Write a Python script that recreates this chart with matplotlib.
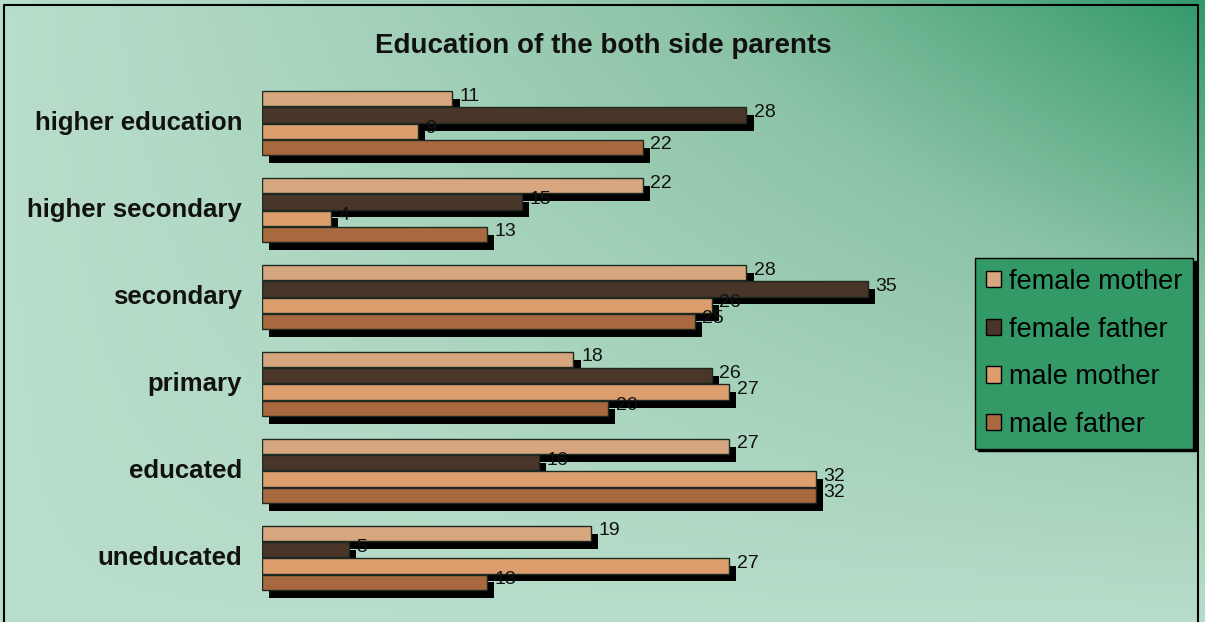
import numpy as np
import matplotlib
matplotlib.use("Agg")
import matplotlib.pyplot as plt
from matplotlib.patches import Patch
from matplotlib.colors import LinearSegmentedColormap

plt.rcParams['font.family'] = ['Liberation Sans', 'DejaVu Sans']

categories = ["higher education", "higher secondary", "secondary", "primary", "educated", "uneducated"]
series_names = ["female mother", "female father", "male mother", "male father"]
female_mother = [11, 22, 28, 18, 27, 19]
female_father = [28, 15, 35, 26, 16, 5]
male_mother = [9, 4, 26, 27, 32, 27]
male_father = [22, 13, 25, 20, 32, 13]
series_values = [female_mother, female_father, male_mother, male_father]
series_colors = ["#d6a67e", "#4a3529", "#dd9e6e", "#a8693f"]

W, H = 1205, 622
fig = plt.figure(figsize=(W / 100, H / 100), dpi=100)

# background gradient: dark green in top-right corner, light mint elsewhere
bg = fig.add_axes([0, 0, 1, 1], zorder=-5)
xx, yy = np.meshgrid(np.linspace(0, 1, 400), np.linspace(0, 1, 200))
t = (xx ** 1.2) * (yy ** 1.0)
cmap = LinearSegmentedColormap.from_list("g", ["#b8ddca", "#8cc3a6", "#33996a"])
bg.imshow(t, cmap=cmap, origin="lower", aspect="auto", extent=[0, 1, 0, 1])
bg.set_xlim(0, 1)
bg.set_ylim(0, 1)
bg.axis("off")
# outer border
bx0, bx1, by1 = 4 / W, 1198 / W, 1 - 5 / H
bg.plot([bx0, bx0, bx1, bx1], [0, by1, by1, 0], color="black", lw=1.5, transform=bg.transAxes)

ax = fig.add_axes([262 / W, 12 / H, 692 / W, 539 / H])
ax.set_facecolor("none")
ax.set_xlim(0, 40)
ax.set_ylim(-0.6, 5.6)
ax.axis("off")

n = len(categories)
centers = np.arange(n)[::-1]
step = 0.187
h = 0.176
dx, dy = 0.42, 0.09
for i, (vals, col) in enumerate(zip(series_values, series_colors)):
    ypos = centers + (1.5 - i) * step
    ax.barh(ypos - dy, vals, left=dx, height=h, color="black", zorder=1 + i * 2)
    ax.barh(ypos, vals, height=h, color=col, edgecolor="#1c2a22", linewidth=1, zorder=2 + i * 2)
    for y, v in zip(ypos, vals):
        ax.text(v + dx + 0.02, y + 0.03, str(v), va="center", ha="left", fontsize=14,
                color="#111111", zorder=20)

for c, y in zip(categories, centers):
    ax.text(-1.15, y, c, ha="right", va="center", fontsize=18.5, fontweight="bold", color="#111111")

fig.text(603 / W, 1 - 46 / H, "Education of the both side parents", ha="center", va="center",
         fontsize=20, fontweight="bold", color="#111111")

handles = [Patch(facecolor=c, edgecolor="black", linewidth=1) for c in series_colors]
leg = fig.legend(handles, series_names, loc="upper left", bbox_to_anchor=(975 / W, 1 - 258 / H),
                 borderaxespad=0,
                 fontsize=19.5, frameon=True, fancybox=False, facecolor="#339966", edgecolor="black",
                 framealpha=1, handlelength=0.55, handleheight=0.55, handletextpad=0.3,
                 labelspacing=0.8, borderpad=0.4, shadow={"color": "black", "alpha": 1})
leg.get_frame().set_linewidth(1)

fig.savefig("out.png", dpi=100)
